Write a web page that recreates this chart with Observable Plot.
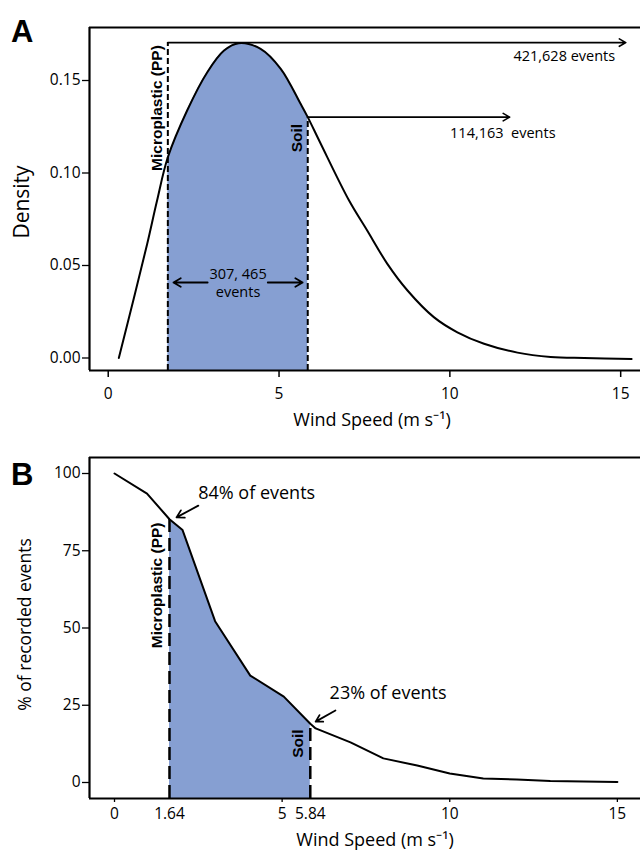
<!DOCTYPE html>
<html><head><meta charset="utf-8">
<script src="https://cdn.jsdelivr.net/npm/d3@7"></script>
<script src="https://cdn.jsdelivr.net/npm/@observablehq/plot@0.6"></script>
<style>
body{margin:0;background:#fff;}
#wrap{position:relative;width:640px;height:853px;overflow:hidden;font-family:"Open Sans",sans-serif;}
.panel{position:absolute;left:0;}
.tag{position:absolute;left:11px;font-family:"Liberation Sans",Arial,sans-serif;font-weight:bold;font-size:31px;line-height:1;color:#000;}
svg text{white-space:pre;}
</style></head><body>
<div id="wrap">
  <div class="panel" id="a" style="top:0"></div>
  <div class="panel" id="b" style="top:440px"></div>
  <div class="tag" style="top:16px">A</div>
  <div class="tag" style="top:459px">B</div>
</div>
<script>
// ---------- Panel A data: wind speed density ----------
const densX = [0.31, 0.75, 1.14, 1.43, 1.745, 2.31, 2.90, 3.39, 3.82, 4.46, 5.05, 5.63, 5.84, 6.22, 7.05, 7.58, 8.17, 8.76, 9.53, 10.22, 11.0, 11.98, 12.95, 13.93, 15.32];
const densY = [0.0, 0.0323, 0.0616, 0.0851, 0.1085, 0.1338, 0.1545, 0.1662, 0.1702, 0.1671, 0.1563, 0.1374, 0.1302, 0.1158, 0.0851, 0.0689, 0.0509, 0.0365, 0.0221, 0.0139, 0.0077, 0.0029, 0.0006, 0.0000, -0.0005];
const aThresholds = [1.745, 5.84];
const aThresholdTops = [0.1705, 0.1302];
const aThresholdNames = ["Microplastic (PP)", "Soil"];
const aNameY = [0.1351, 0.1189];
const aArrowEnds = [15.15, 11.75];
const aEventLabels = ["421,628 events", "114,163  events"];
const aEventX = [13.35, 11.55];
const aEventY = [0.163, 0.1214];
const aMiddleLabel = "307, 465\nevents";
const aMiddleX = 3.80, aMiddleY = 0.0411;
const aMiddleArrows = [[2.91, 1.91], [4.67, 5.69]];
const aMiddleArrowY = 0.0408;
const aXTicks = [0, 5, 10, 15];
const aYTicks = [0, 0.05, 0.10, 0.15];

// ---------- Panel B data: % of recorded events above wind speed ----------
const cumX = [0, 0.97, 1.64, 2.03, 3.0, 4.05, 5.05, 5.84, 6.0, 7.04, 8.02, 9.03, 10.0, 11.0, 12.0, 13.0, 15.0];
const cumY = [100, 93.5, 85.2, 81.7, 52.2, 34.6, 27.8, 19.0, 17.5, 13.0, 7.8, 5.5, 2.9, 1.3, 1.0, 0.5, 0.2];
const bThresholds = [1.64, 5.84];
const bThresholdNames = ["Microplastic (PP)", "Soil"];
const bNameY = [63.8, 12.6];
const bPctLabels = ["84% of events", "23% of events"];
const bPctX = [4.24, 8.16];
const bPctY = [93.5, 28.8];
const bPctArrows = [[2.5, 89.6, 1.85, 85.8], [6.59, 23.3, 6.0, 19.7]];
const bXTicks = [0, 5, 10, 15];
const bXExtraTicks = [1.64, 5.84];
const bYTicks = [0, 25, 50, 75, 100];

const xTitle = "Wind Speed (m s\u207B\u00B9)";
const fill = "#869fd2";
const ink = "#000";

// ---------- Panel A ----------
const dens = densX.map((x, i) => ({x, y: densY[i]}));
const aDom = {x: [-0.548, 15.58], y: [-0.00676, 0.17865]};
const aThr = aThresholds.map((x, i) => ({x, top: aThresholdTops[i], name: aThresholdNames[i], ny: aNameY[i], end: aArrowEnds[i]}));
const aEv = aEventLabels.map((t, i) => ({t, x: aEventX[i], y: aEventY[i]}));

const plotA = Plot.plot({
  width: 640, height: 440,
  marginLeft: 89, marginRight: 0, marginTop: 27, marginBottom: 70,
  x: {domain: aDom.x}, y: {domain: aDom.y},
  style: {fontFamily: "Open Sans, sans-serif", fontSize: "15.5px", color: ink, background: "white", overflow: "visible"},
  marks: [
    Plot.areaY(dens.filter(d => d.x >= aThresholds[0] - 1e-9 && d.x <= aThresholds[1] + 1e-9), {x: "x", y1: aDom.y[0], y2: "y", fill, curve: "catmull-rom"}),
    Plot.ruleX(aThr, {x: "x", y1: aDom.y[0], y2: "top", stroke: ink, strokeWidth: 2, strokeDasharray: "6,3"}),
    Plot.arrow(aThr, {x1: "x", x2: "end", y1: "top", y2: "top", stroke: ink, strokeWidth: 1.6, headLength: 7}),
    Plot.text(aThr, {x: "x", y: "ny", text: "name", rotate: -90, dx: -11, fontFamily: "Liberation Sans, Arial, sans-serif", fontWeight: "bold", fontSize: 15.5, fill: ink}),
    Plot.text(aEv, {x: "x", y: "y", text: "t", fontSize: 14.5, fill: ink}),
    Plot.text([aMiddleLabel], {x: aMiddleX, y: aMiddleY, text: d => d, fontSize: 14.5, lineHeight: 1.3, fill: ink}),
    Plot.arrow(aMiddleArrows, {x1: d => d[0], x2: d => d[1], y1: aMiddleArrowY, y2: aMiddleArrowY, stroke: ink, strokeWidth: 1.8, headLength: 7}),
    Plot.line(dens, {x: "x", y: "y", stroke: ink, strokeWidth: 2, curve: "catmull-rom"}),
    Plot.ruleX([aDom.x[0]], {stroke: ink, strokeWidth: 2.2}),
    Plot.ruleY([aDom.y[0], aDom.y[1]], {stroke: ink, strokeWidth: 2.2}),
    Plot.axisY({ticks: aYTicks, tickFormat: d3.format(".2f"), tickSize: 7, tickPadding: 2, label: null, strokeWidth: 1.3}),
    Plot.axisX({ticks: aXTicks, tickFormat: d3.format("d"), tickSize: 7, tickPadding: 10, label: null, strokeWidth: 1.5}),
    Plot.text([xTitle], {frameAnchor: "bottom", textAnchor: "middle", lineAnchor: "middle", dx: 7, dy: 50, text: d => d, fontSize: 18, fill: ink}),
    Plot.text(["Density"], {frameAnchor: "left", textAnchor: "middle", lineAnchor: "middle", dx: -67, dy: 3, rotate: -90, text: d => d, fontSize: 21, fill: ink})
  ]
});
document.getElementById("a").append(plotA);

// ---------- Panel B ----------
const cum = cumX.map((x, i) => ({x, y: cumY[i]}));
const bDom = {x: [-0.746, 15.69], y: [-5.18, 105.18]};
const bThr = bThresholds.map((x, i) => ({x, top: cumY[cumX.indexOf(x)], name: bThresholdNames[i], ny: bNameY[i]}));
const bPct = bPctLabels.map((t, i) => ({t, x: bPctX[i], y: bPctY[i]}));

const plotB = Plot.plot({
  width: 640, height: 413,
  marginLeft: 89, marginRight: 0, marginTop: 17, marginBottom: 55,
  x: {domain: bDom.x}, y: {domain: bDom.y},
  style: {fontFamily: "Open Sans, sans-serif", fontSize: "15.5px", color: ink, background: "transparent", overflow: "visible"},
  marks: [
    Plot.areaY(cum.filter(d => d.x >= bThresholds[0] && d.x <= bThresholds[1]), {x: "x", y1: bDom.y[0], y2: "y", fill}),
    Plot.ruleX(bThr, {x: "x", y1: bDom.y[0], y2: "top", stroke: ink, strokeWidth: 2.5, strokeDasharray: "13,6"}),
    Plot.text(bThr, {x: "x", y: "ny", text: "name", rotate: -90, dx: -12, fontFamily: "Liberation Sans, Arial, sans-serif", fontWeight: "bold", fontSize: 15.5, fill: ink}),
    Plot.line(cum, {x: "x", y: "y", stroke: ink, strokeWidth: 2}),
    Plot.text(bPct, {x: "x", y: "y", text: "t", fontSize: 18, fill: ink}),
    Plot.arrow(bPctArrows, {x1: d => d[0], y1: d => d[1], x2: d => d[2], y2: d => d[3], stroke: ink, strokeWidth: 1.8, headLength: 8}),
    Plot.ruleX([bDom.x[0]], {stroke: ink, strokeWidth: 2.2}),
    Plot.ruleY([bDom.y[0], bDom.y[1]], {stroke: ink, strokeWidth: 2.2}),
    Plot.axisY({ticks: bYTicks, tickSize: 7, tickPadding: 2, label: null, strokeWidth: 1.3}),
    Plot.axisX({ticks: bXTicks, tickFormat: d3.format("d"), tickSize: 4, tickPadding: 5, label: null, strokeWidth: 1.3}),
    Plot.axisX({ticks: bXExtraTicks, tickFormat: d3.format(".2f"), tickSize: 0, tickPadding: 9, label: null}),
    Plot.text([xTitle], {frameAnchor: "bottom", textAnchor: "middle", lineAnchor: "middle", dx: 10, dy: 42, text: d => d, fontSize: 18, fill: ink}),
    Plot.text(["% of recorded events"], {frameAnchor: "left", textAnchor: "middle", lineAnchor: "middle", dx: -64, dy: -3.5, rotate: -90, text: d => d, fontSize: 17.5, fill: ink})
  ]
});
document.getElementById("b").append(plotB);
</script>
</body></html>
